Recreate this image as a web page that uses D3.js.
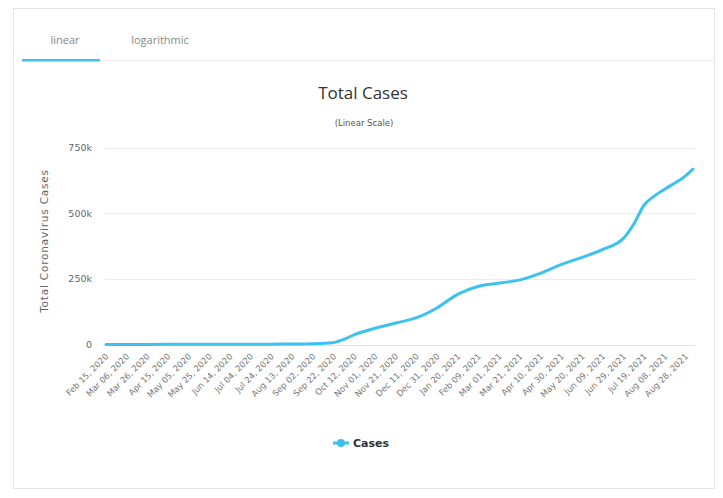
<!DOCTYPE html>
<html>
<head>
<meta charset="utf-8">
<script src="https://cdn.jsdelivr.net/npm/d3@7"></script>
<style>
  body { margin: 0; background: #fff; font-family: "DejaVu Sans", sans-serif; }
  #chart { width: 723px; height: 498px; }
</style>
</head>
<body>
<div id="chart"></div>
<script>
const width = 723;
const height = 498;

// Tabs above the chart
const tabs = ["linear", "logarithmic"];

const dates = [
  "2020-02-15", "2020-03-06", "2020-03-26", "2020-04-15", "2020-05-05", "2020-05-25",
  "2020-06-14", "2020-07-04", "2020-07-24", "2020-08-13", "2020-09-02", "2020-09-22",
  "2020-10-02", "2020-10-12", "2020-11-01", "2020-11-21", "2020-12-11", "2020-12-31",
  "2021-01-20", "2021-02-09", "2021-03-01", "2021-03-21", "2021-04-10", "2021-04-30",
  "2021-05-20", "2021-06-09", "2021-06-29", "2021-07-09", "2021-07-19", "2021-07-29",
  "2021-08-08", "2021-08-28", "2021-09-04"
];
const cases = [
  0, 0, 200, 750, 1000, 1050,
  1100, 1200, 1400, 1900, 3000, 8000,
  20000, 38000, 62000, 82000, 102000, 140000,
  192000, 222000, 234000, 246000, 272000, 305000,
  332000, 362000, 405000, 460000, 532000, 566000,
  592000, 643000, 668000
];

// X tick labels (every 20 days)
const tickLabels = [
  "Feb 15, 2020", "Mar 06, 2020", "Mar 26, 2020", "Apr 15, 2020", "May 05, 2020",
  "May 25, 2020", "Jun 14, 2020", "Jul 04, 2020", "Jul 24, 2020", "Aug 13, 2020",
  "Sep 02, 2020", "Sep 22, 2020", "Oct 12, 2020", "Nov 01, 2020", "Nov 21, 2020",
  "Dec 11, 2020", "Dec 31, 2020", "Jan 20, 2021", "Feb 09, 2021", "Mar 01, 2021",
  "Mar 21, 2021", "Apr 10, 2021", "Apr 30, 2021", "May 20, 2021", "Jun 09, 2021",
  "Jun 29, 2021", "Jul 19, 2021", "Aug 08, 2021", "Aug 28, 2021"
];
const yTicks = [0, 250000, 500000, 750000];

const parseDate = d3.timeParse("%Y-%m-%d");
const parseTick = d3.timeParse("%b %d, %Y");
const data = dates.map((d, i) => ({ date: parseDate(d), value: cases[i] }));

const lineColor = "#3cc2ec";

const svg = d3.select("#chart").append("svg")
  .attr("width", width)
  .attr("height", height);

// card
svg.append("rect")
  .attr("x", 13.5).attr("y", 8.5)
  .attr("width", 701).attr("height", 480)
  .attr("fill", "#fff")
  .attr("stroke", "#e3e3e3");

// tab bar
svg.append("line")
  .attr("x1", 22).attr("x2", 714)
  .attr("y1", 60.5).attr("y2", 60.5)
  .attr("stroke", "#eeeeee");

svg.append("rect")
  .attr("x", 22).attr("y", 59)
  .attr("width", 78).attr("height", 2.5)
  .attr("fill", lineColor);

svg.selectAll(".tab")
  .data(tabs)
  .join("text")
    .attr("class", "tab")
    .attr("x", (d, i) => i === 0 ? 65 : 160)
    .attr("y", 44)
    .attr("text-anchor", "middle")
    .style("font-family", "'Open Sans', sans-serif")
    .style("font-size", "11px")
    .style("fill", "#888")
    .text(d => d);

// titles
svg.append("text")
  .attr("x", 363).attr("y", 99)
  .attr("text-anchor", "middle")
  .style("font-family", "'Open Sans', sans-serif")
  .style("font-size", "17px")
  .style("fill", "#333")
  .text("Total Cases");

svg.append("text")
  .attr("x", 364).attr("y", 126)
  .attr("text-anchor", "middle")
  .style("font-family", "'DejaVu Sans', sans-serif")
  .style("font-size", "8.5px")
  .style("fill", "#555")
  .text("(Linear Scale)");

// scales
const x = d3.scaleTime()
  .domain([parseDate("2020-02-15"), parseDate("2021-09-04")])
  .range([106, 693]);

const y = d3.scaleLinear()
  .domain([0, 750000])
  .range([344.5, 147.5]);

// grid + y labels
const grid = svg.append("g");
grid.selectAll("line")
  .data(yTicks)
  .join("line")
    .attr("x1", 105).attr("x2", 695)
    .attr("y1", d => Math.round(y(d)) + 0.5)
    .attr("y2", d => Math.round(y(d)) + 0.5)
    .attr("stroke", d => d === 0 ? "#dfe3ea" : "#ececec");

grid.selectAll("text")
  .data(yTicks)
  .join("text")
    .attr("x", 92)
    .attr("y", d => y(d) + 3.5)
    .attr("text-anchor", "end")
    .style("font-size", "9.5px")
    .style("fill", "#666")
    .text(d => d === 0 ? "0" : d3.format("~s")(d));

// y axis title
svg.append("text")
  .attr("transform", "translate(48,241) rotate(-90)")
  .attr("text-anchor", "middle")
  .style("font-size", "10.5px")
  .style("letter-spacing", "0.8px")
  .style("fill", "#666")
  .text("Total Coronavirus Cases");

// x tick labels
svg.append("g")
  .selectAll("text")
  .data(tickLabels)
  .join("text")
    .attr("transform", d => `translate(${x(parseTick(d)) + 3},${357}) rotate(-45)`)
    .attr("text-anchor", "end")
    .style("font-size", "8.5px")
    .style("fill", "#777")
    .text(d => d);

// line
const line = d3.line()
  .x(d => x(d.date))
  .y(d => y(d.value))
  .curve(d3.curveMonotoneX);

svg.append("path")
  .datum(data)
  .attr("fill", "none")
  .attr("stroke", lineColor)
  .attr("stroke-width", 3)
  .attr("stroke-linejoin", "round")
  .attr("stroke-linecap", "round")
  .attr("d", line);

// legend
const legend = svg.append("g").attr("transform", "translate(333,443)");
legend.append("line")
  .attr("x1", 0).attr("x2", 16)
  .attr("stroke", lineColor)
  .attr("stroke-width", 3);
legend.append("circle")
  .attr("cx", 8).attr("r", 4)
  .attr("fill", lineColor);
legend.append("text")
  .attr("x", 20).attr("y", 4)
  .style("font-size", "11px")
  .style("font-weight", "bold")
  .style("fill", "#333")
  .text("Cases");
</script>
</body>
</html>
